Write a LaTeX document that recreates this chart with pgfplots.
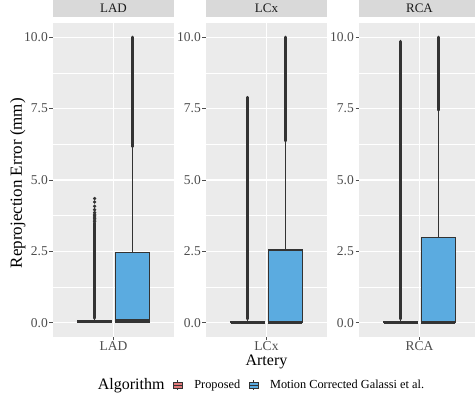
\documentclass[border=0pt]{standalone}
\usepackage{fontspec}
\setmainfont{Liberation Serif}
\usepackage{pgfplots}
\pgfplotsset{compat=1.18}
\usepgfplotslibrary{statistics}
\definecolor{panelgray}{HTML}{EBEBEB}
\definecolor{stripgray}{HTML}{D9D9D9}
\definecolor{boxline}{HTML}{333333}
\definecolor{outl}{HTML}{333333}
\definecolor{propred}{HTML}{E27A7B}
\definecolor{galblue}{HTML}{5BABE0}
\definecolor{tickgray}{HTML}{4D4D4D}
\definecolor{stripText}{HTML}{1A1A1A}
\pgfplotsset{
  boxkey/.style={legend image code/.code={
    \draw[##1, line width=0.9pt] (0pt,-3pt) rectangle (9pt,3pt);
    \draw[##1, fill=none, line width=0.9pt] (0pt,0pt) -- (9pt,0pt) (4.5pt,3pt) -- (4.5pt,5.2pt) (4.5pt,-3pt) -- (4.5pt,-5.2pt);}},
  facet/.style={
    scale only axis, width=121pt, height=314pt,
    xmin=0.4, xmax=1.6, ymin=-0.5, ymax=10.5,
    axis background/.style={fill=panelgray},
    axis line style={draw=none},
    xtick={1}, ytick={0,2.5,5,7.5,10}, minor ytick={1.25,3.75,6.25,8.75},
    xmajorgrids, ymajorgrids, yminorgrids,
    major grid style={white, line width=1.2pt},
    minor grid style={white, line width=0.6pt},
    tick align=outside, major tick length=3.5pt, minor tick length=0pt,
    tick style={tickgray, line width=0.9pt},
    tick pos=left,
    tick label style={font=\fontsize{13.5}{14}\selectfont, text=tickgray},
    yticklabel style={inner sep=1.5pt},
    xticklabel style={inner sep=1pt},
    /pgf/number format/assume math mode=true,
    /pgf/number format/fixed, /pgf/number format/fixed zerofill, /pgf/number format/precision=1,
    title style={at={(0.5,1)}, anchor=south, fill=stripgray, minimum width=121pt, minimum height=17pt, inner sep=0pt, text=stripText, font=\fontsize{13}{13}\selectfont},
    boxplot/draw direction=y,
    boxplot/every median/.style={line width=2.8pt},
    every axis plot/.append style={forget plot},
  },
}
\begin{document}
\begin{tikzpicture}
\path[use as bounding box] (0pt,0pt) rectangle (475pt,396pt);
\clip (0pt,0pt) rectangle (475pt,396pt);
% ---------- LAD ----------
\begin{axis}[facet, at={(53pt,59pt)}, anchor=south west, title={LAD}, xticklabels={LAD},
  ylabel={Reprojection Error (mm)},
  every axis y label/.style={at={(axis description cs:-0.29,0.49)}, rotate=90, anchor=center, inner sep=0pt, font=\fontsize{17}{17}\selectfont}]
\addplot[line width=3.6pt, color=outl, line cap=round] coordinates {(0.8125,0.16) (0.8125,3.5)};
\addplot[only marks, mark=*, mark size=1.5pt, color=outl] coordinates {(0.8125,3.55) (0.8125,3.6) (0.8125,3.65) (0.8125,3.7) (0.8125,3.75) (0.8125,3.8) (0.8125,3.86) (0.8125,3.96) (0.8125,4.08) (0.8125,4.23) (0.8125,4.35)};
\addplot[line width=3.4pt, color=outl, line cap=round] coordinates {(1.1875,6.17) (1.1875,10.0)};
\addplot[boxplot prepared={draw position=0.8125, lower whisker=0, lower quartile=0, median=0.03, upper quartile=0.06, upper whisker=0.13, box extend=0.3375, whisker extend=0}, draw=boxline, fill=propred, line width=1.2pt] coordinates {};
\addplot[boxplot prepared={draw position=1.1875, lower whisker=0, lower quartile=0, median=0.07, upper quartile=2.45, upper whisker=6.12, box extend=0.3375, whisker extend=0}, draw=boxline, fill=galblue, line width=1.2pt] coordinates {};
\end{axis}
% ---------- LCx ----------
\begin{axis}[facet, at={(206pt,59pt)}, anchor=south west, title={LCx}, xticklabels={LCx},
  xlabel={Artery},
  every axis x label/.style={at={(axis description cs:0.5,-0.08)}, anchor=center, inner sep=0pt, font=\fontsize{16}{16}\selectfont},
  legend columns=-1,
  legend style={at={(axis description cs:0.413,-0.153)}, anchor=center, draw=none, fill=none,
    font=\fontsize{12.3}{13}\selectfont, nodes={inner sep=1.5pt},
    /tikz/every odd column/.append style={column sep=10pt},
    /tikz/every even column/.append style={column sep=7pt}}]
\addplot[line width=3.6pt, color=outl, line cap=round] coordinates {(0.8125,0.14) (0.8125,4.25)};
\addplot[line width=2.8pt, color=outl, line cap=round] coordinates {(0.8125,4.25) (0.8125,7.9)};
\addplot[line width=3.4pt, color=outl, line cap=round] coordinates {(1.1875,6.37) (1.1875,10.0)};
\addplot[boxplot prepared={draw position=0.8125, lower whisker=0, lower quartile=0, median=0.02, upper quartile=0.05, upper whisker=0.11, box extend=0.3375, whisker extend=0}, draw=boxline, fill=propred, line width=1.2pt] coordinates {};
\addplot[boxplot prepared={draw position=1.1875, lower whisker=0, lower quartile=0, median=0.02, upper quartile=2.55, upper whisker=6.33, box extend=0.3375, whisker extend=0}, draw=boxline, fill=galblue, line width=1.2pt] coordinates {};
\addlegendimage{empty legend}\addlegendentry{\fontsize{16}{16}\selectfont Algorithm}
\addlegendimage{boxkey, draw=boxline, fill=propred}\addlegendentry{Proposed}
\addlegendimage{boxkey, draw=boxline, fill=galblue}\addlegendentry{Motion Corrected Galassi et al.}
\end{axis}
% ---------- RCA ----------
\begin{axis}[facet, at={(359pt,59pt)}, anchor=south west, title={RCA}, xticklabels={RCA}]
\addplot[line width=3.6pt, color=outl, line cap=round] coordinates {(0.8125,0.14) (0.8125,9.85)};
\addplot[line width=3.4pt, color=outl, line cap=round] coordinates {(1.1875,7.45) (1.1875,10.0)};
\addplot[boxplot prepared={draw position=0.8125, lower whisker=0, lower quartile=0, median=0.02, upper quartile=0.05, upper whisker=0.11, box extend=0.3375, whisker extend=0}, draw=boxline, fill=propred, line width=1.2pt] coordinates {};
\addplot[boxplot prepared={draw position=1.1875, lower whisker=0, lower quartile=0, median=0.02, upper quartile=2.98, upper whisker=7.42, box extend=0.3375, whisker extend=0}, draw=boxline, fill=galblue, line width=1.2pt] coordinates {};
\end{axis}
\end{tikzpicture}
\end{document}
